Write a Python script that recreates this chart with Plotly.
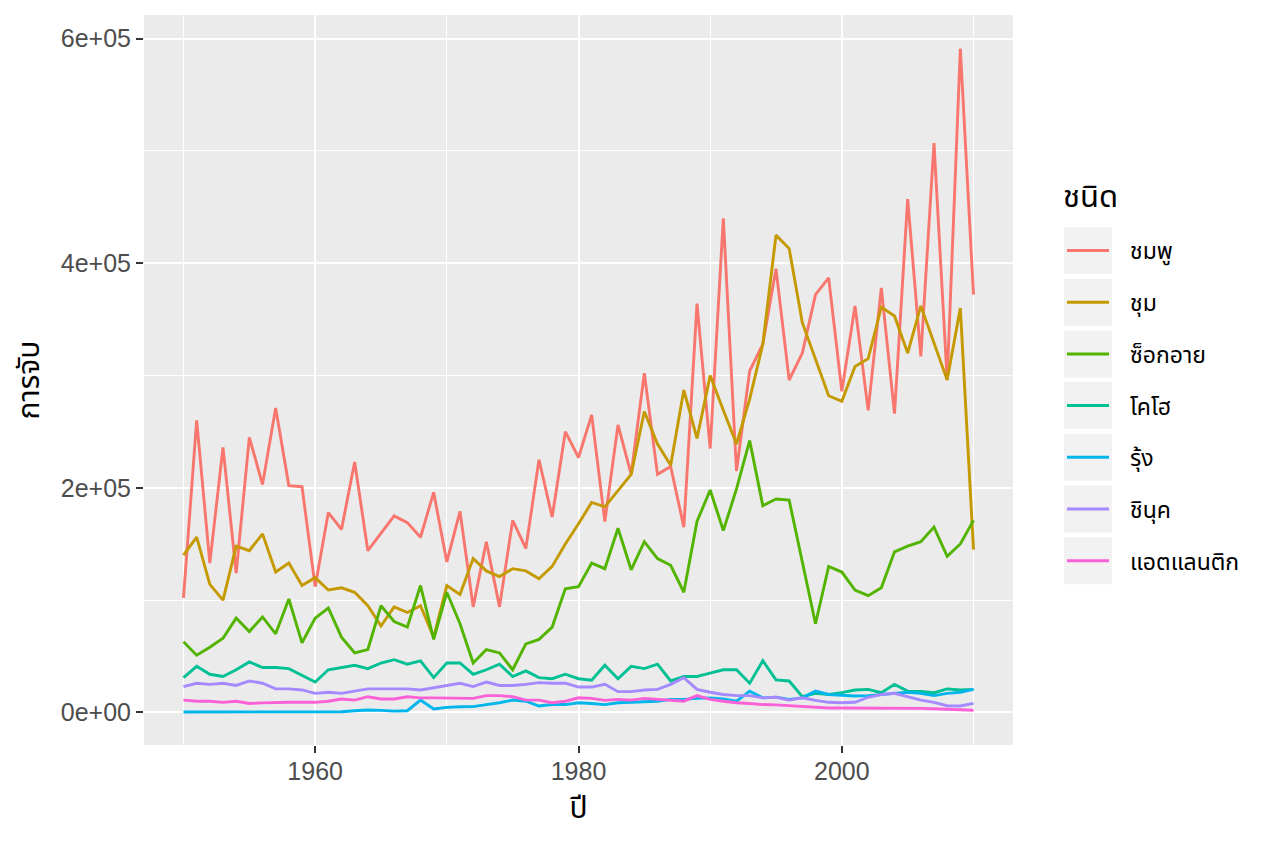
import plotly.graph_objects as go

# ข้อมูลการจับปลาแซลมอน 1950-2010
years = list(range(1950, 2011))

species = ["ชมพู", "ชุม", "ซ็อกอาย", "โคโฮ", "รุ้ง", "ชินุค", "แอตแลนติก"]
colors = ["#F8766D", "#C49A00", "#53B400", "#00C094", "#00B6EB", "#A58AFF", "#FB61D7"]

pink = [102000, 260000, 133000, 236000, 124000, 245000, 203000, 271000, 202000, 201000,
        112000, 178000, 163000, 223000, 144000, 160000, 175000, 169000, 156000, 196000,
        134000, 179000, 94000, 152000, 94000, 171000, 146000, 225000, 174000, 250000,
        227000, 265000, 170000, 256000, 212000, 302000, 212000, 219000, 165000, 364000,
        235000, 440000, 215000, 304000, 328000, 395000, 296000, 320000, 372000, 387000,
        286000, 362000, 269000, 378000, 266000, 457000, 317000, 507000, 296000, 591000,
        372000]
chum = [140000, 156000, 114000, 100000, 148000, 144000, 159000, 125000, 133000, 113000,
        120000, 109000, 111000, 107000, 95000, 77000, 94000, 89000, 95000, 67000,
        113000, 105000, 137000, 126000, 121000, 128000, 126000, 119000, 130000, 150000,
        168000, 187000, 183000, 198000, 212000, 268000, 239000, 220000, 287000, 244000,
        300000, 269000, 239000, 279000, 328000, 425000, 413000, 347000, 314000, 282000,
        277000, 308000, 315000, 361000, 353000, 320000, 362000, 329000, 296000, 360000,
        145000]
sockeye = [63000, 51000, 58000, 66000, 84000, 72000, 85000, 70000, 101000, 62000,
           84000, 93000, 67000, 53000, 56000, 95000, 81000, 76000, 113000, 65000,
           107000, 79000, 44000, 56000, 53000, 38000, 61000, 65000, 76000, 110000,
           112000, 133000, 128000, 164000, 127000, 152000, 137000, 131000, 107000, 170000,
           198000, 162000, 199000, 242000, 184000, 190000, 189000, 134000, 79000, 130000,
           125000, 109000, 104000, 111000, 143000, 148000, 152000, 165000, 139000, 150000,
           171000]
coho = [31000, 41000, 34000, 32000, 38000, 45000, 40000, 40000, 39000, 33000,
        27000, 38000, 40000, 42000, 39000, 44000, 47000, 43000, 46000, 31000,
        44000, 44000, 34000, 38000, 43000, 32000, 37000, 31000, 30000, 34000,
        30000, 28600, 42000, 30000, 41000, 39000, 43000, 28000, 32000, 32000,
        35000, 38000, 38000, 26000, 46000, 29000, 28000, 14000, 17000, 16000,
        17600, 20000, 20500, 17600, 25000, 19000, 18600, 17600, 21000, 20000,
        20500]
steelhead = [400, 400, 400, 400, 400, 400, 400, 400, 400, 400,
             400, 500, 600, 1500, 2200, 1800, 1200, 1500, 11000, 3000,
             4500, 5000, 5200, 7000, 8600, 11000, 10000, 5700, 7000, 7000,
             8600, 8000, 7000, 8600, 9000, 10000, 10000, 11600, 11600, 12500,
             13000, 12000, 10000, 19000, 13000, 13600, 11600, 13000, 19000, 16000,
             15000, 14600, 15000, 16000, 17000, 18000, 17000, 15000, 17000, 18000,
             20500]
chinook = [23000, 26000, 25000, 26000, 24000, 28000, 26000, 21000, 21000, 20000,
           17000, 18000, 17000, 19000, 21000, 21000, 21000, 21000, 20000, 22000,
           24000, 26000, 23000, 27000, 24000, 24000, 25000, 26500, 26000, 26000,
           22600, 22600, 25000, 18500, 18500, 20000, 20500, 25000, 31000, 20500,
           18000, 16000, 15000, 15000, 13000, 13500, 11000, 13000, 10700, 9000,
           8600, 9000, 13500, 16000, 17000, 14000, 11000, 9000, 6000, 5700,
           8000]
atlantic = [11000, 10000, 10000, 9000, 10000, 8000, 8500, 9000, 9000, 9000,
            9000, 10000, 12000, 11000, 14000, 12000, 12000, 14000, 13000, 13000,
            13000, 13000, 12500, 15000, 15000, 14000, 11000, 11000, 8600, 10000,
            13000, 12500, 10700, 11600, 11000, 12500, 11600, 11000, 10000, 15000,
            11600, 10000, 8600, 8000, 7000, 6700, 6000, 5700, 4800, 4000,
            4000, 4000, 3600, 3600, 4000, 3600, 3600, 3300, 2700, 2100,
            2000]

series = [pink, chum, sockeye, coho, steelhead, chinook, atlantic]

x_ticks = [1960, 1980, 2000]
x_minor_start = 1950
y_ticks = [0, 200000, 400000, 600000]
y_tick_labels = ["0e+00", "2e+05", "4e+05", "6e+05"]

FONT = "Liberation Sans, Arial, Noto Sans Thai, sans-serif"
# page adds an 8px body margin, so the figure is drawn 8px in from the window corner
OFF = 8
W, H = 1264 - OFF, 843 - OFF
L, R, T, B = 144 - OFF, 251, 15 - OFF, 98
PW, PH = W - L - R, H - T - B

fig = go.Figure()
for name, vals, col in zip(species, series, colors):
    fig.add_trace(go.Scatter(
        x=years, y=vals, mode="lines", name=name,
        line=dict(color=col, width=2.9),
    ))


# window pixel -> paper coords
def px_x(p):
    return (p - OFF - L) / PW


def px_y(p):
    return (T + PH - (p - OFF)) / PH


# legend drawn the ggplot way: grey key boxes, a line and a label per species
shapes, annos = [], []
annos.append(dict(
    text="ชนิด", x=px_x(1061), y=px_y(197), xref="paper", yref="paper",
    xanchor="left", yanchor="middle", showarrow=False,
    font=dict(size=31, color="black"),
))
for i, (name, col) in enumerate(zip(species, colors)):
    top = 227 + 51.7 * i
    mid = top + 23.5
    shapes.append(dict(
        type="rect", xref="paper", yref="paper",
        x0=px_x(1064), x1=px_x(1112), y0=px_y(top + 47), y1=px_y(top),
        fillcolor="#F2F2F2", line=dict(width=0), layer="above",
    ))
    shapes.append(dict(
        type="line", xref="paper", yref="paper",
        x0=px_x(1067), x1=px_x(1109), y0=px_y(mid), y1=px_y(mid),
        line=dict(color=col, width=3), layer="above",
    ))
    annos.append(dict(
        text=name, x=px_x(1128), y=px_y(mid + 1), xref="paper", yref="paper",
        xanchor="left", yanchor="middle", showarrow=False,
        font=dict(size=23, color="black"),
    ))

fig.update_layout(
    width=W, height=H, autosize=False,
    margin=dict(l=L, r=R, t=T, b=B),
    paper_bgcolor="white", plot_bgcolor="#EBEBEB",
    font=dict(family=FONT, color="black"),
    shapes=shapes, annotations=annos,
    showlegend=False,
)

fig.update_xaxes(
    range=[1947, 2013],
    tickvals=x_ticks, ticktext=[str(v) for v in x_ticks],
    showgrid=True, gridcolor="white", gridwidth=2.4,
    minor=dict(tick0=x_minor_start, dtick=20, showgrid=True, gridcolor="white", gridwidth=1.2, ticks=""),
    zeroline=False, showline=False,
    ticks="outside", ticklen=7, tickwidth=2, tickcolor="#333333",
    ticklabelstandoff=-3,
    tickfont=dict(size=25, color="#4D4D4D"),
    title=dict(text="ปี", font=dict(size=30, color="black"), standoff=12),
)
fig.update_yaxes(
    range=[-29000, 621000],
    tickvals=y_ticks, ticktext=y_tick_labels,
    showgrid=True, gridcolor="white", gridwidth=2.4,
    minor=dict(tick0=100000, dtick=200000, showgrid=True, gridcolor="white", gridwidth=1.2, ticks=""),
    zeroline=False, showline=False,
    ticks="outside", ticklen=7, tickwidth=2, tickcolor="#333333",
    tickfont=dict(size=25, color="#4D4D4D"),
    title=dict(text="การจับ", font=dict(size=30, color="black"), standoff=12),
)

fig.write_html("out.html")
